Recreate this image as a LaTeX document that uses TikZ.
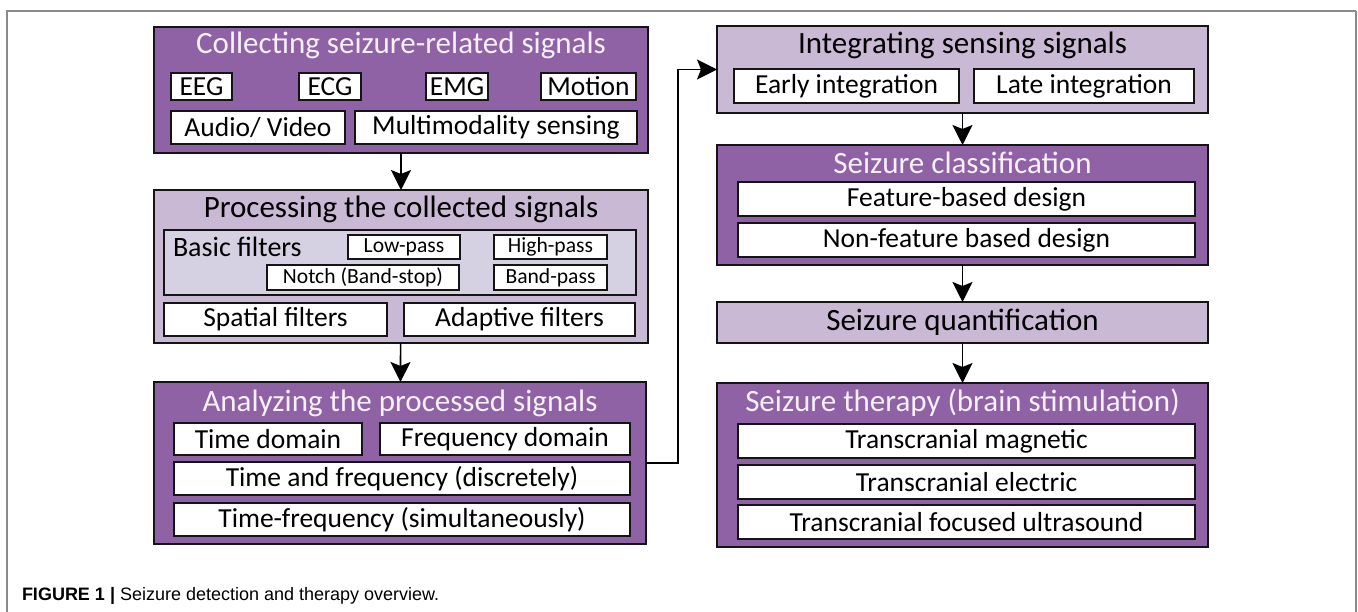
\documentclass[tikz,border=0pt]{standalone}
\usepackage{fontspec}
\setmainfont{Carlito}
\newfontfamily\capfont{Liberation Sans}
\usepackage{xcolor}
\definecolor{cDark}{HTML}{8F62A6}
\definecolor{cLight}{HTML}{C9B9D4}
\definecolor{cBasic}{HTML}{D5D1E3}
\definecolor{ink}{HTML}{141414}
\definecolor{rim}{HTML}{8A8A8A}
\definecolor{paper}{HTML}{F6F0F8}
\usetikzlibrary{arrows.meta}

\begin{document}
\begin{tikzpicture}[x=1pt, y=-1pt, every node/.style={inner sep=0pt, outer sep=0pt},
   big/.style={draw=ink, line width=1.6pt, fill=cDark},
   pale/.style={big, fill=cLight},
   item/.style={draw=ink, line width=1.4pt, fill=white, font=\fontsize{27.5}{32}\selectfont},
   small/.style={item, font=\fontsize{21.6}{25}\selectfont},
   head/.style={font=\fontsize{31}{36}\selectfont, text=paper},
   headk/.style={head, text=black},
   sz/.style 2 args={minimum width=#1pt, minimum height=#2pt},
   arr/.style={-{Stealth[length=20pt, width=20pt, inset=4pt]}, line width=1.6pt, color=black}]
  \useasboundingbox (0,0) rectangle (1358,612);
  \draw[rim, line width=2pt] (7,612) -- (7,11) -- (1356,11);
  \draw[rim, line width=1.2pt] (1356,11) -- (1356,612);

  \node[big, sz={494}{126}] (collect) at (401,90) {};
  \node[head] (collectT) at (401,45) {Collecting seizure-related signals};
  \node[item, sz={61}{27}] (eeg) at (201.5,86.5) {EEG};
  \node[item, sz={62}{27}] (ecg) at (330,86.5) {ECG};
  \node[item, sz={62}{27}] (emg) at (457,86.5) {EMG};
  \node[item, sz={95}{27}] (motion) at (588.5,86.5) {Motion};
  \node[item, sz={174}{33}] (av) at (258,127.5) {Audio/ Video};
  \node[item, sz={282}{33}] (multi) at (496,127.5) {Multimodality sensing};

  \node[pale, sz={494}{153}] (process) at (401,266.5) {};
  \node[headk] (processT) at (401,209) {Processing the collected signals};
  \node[draw=ink, line width=1.4pt, fill=cBasic, sz={472}{65}] (basic) at (400,262.5) {};
  \node[anchor=west, font=\fontsize{28}{32}\selectfont] (basicT) at (173,247) {Basic filters};
  \node[small, sz={112}{24}] (low) at (404,247) {Low-pass};
  \node[small, sz={113}{24}] (high) at (550.5,247) {High-pass};
  \node[small, sz={192}{25}] (notch) at (363,277.5) {Notch (Band-stop)};
  \node[small, sz={113}{25}] (band) at (550.5,277.5) {Band-pass};
  \node[item, sz={223}{33}] (spatial) at (275.5,319.5) {Spatial filters};
  \node[item, sz={231}{33}] (adaptive) at (519.5,319.5) {Adaptive filters};

  \node[big, sz={492}{162}] (analyze) at (400,463) {};
  \node[head] (analyzeT) at (400,403) {Analyzing the processed signals};
  \node[item, sz={188}{32}] (tdom) at (268,439) {Time domain};
  \node[item, sz={250}{32}] (fdom) at (505,439) {Frequency domain};
  \node[item, sz={456}{33}] (tfd) at (402,478.5) {Time and frequency (discretely)};
  \node[item, sz={456}{33}] (tfs) at (402,519.5) {Time-frequency (simultaneously)};

  \node[pale, sz={491}{87}] (integrate) at (962.5,69.5) {};
  \node[headk] (integrateT) at (962.5,45) {Integrating sensing signals};
  \node[item, sz={225}{34}] (early) at (846.5,86) {Early integration};
  \node[item, sz={220}{34}] (late) at (1084,86) {Late integration};

  \node[big, sz={491}{120}] (classify) at (962.5,205) {};
  \node[head] (classifyT) at (962.5,163) {Seizure classification};
  \node[item, sz={457}{34}] (feat) at (966.5,199) {Feature-based design};
  \node[item, sz={457}{34}] (nonfeat) at (966.5,240) {Non-feature based design};

  \node[pale, sz={491}{41}, font=\fontsize{31}{36}\selectfont] (quantify) at (962.5,322.5) {Seizure quantification};

  \node[big, sz={491}{164}] (therapy) at (962.5,465) {};
  \node[head] (therapyT) at (962.5,403) {Seizure therapy (brain stimulation)};
  \node[item, sz={457}{34}] (tms) at (966.5,441) {Transcranial magnetic};
  \node[item, sz={457}{34}] (tes) at (966.5,482) {Transcranial electric};
  \node[item, sz={457}{34}] (tfus) at (966.5,522) {Transcranial focused ultrasound};

  \foreach \i/\j in {collect/process,process/analyze,integrate/classify,classify/quantify,quantify/therapy} \draw[arr] (\i) -- (\j);
  \draw[arr] (analyze.east) -- ++(32,0) |- (integrate.west);

  \node[anchor=base west, font=\capfont\fontsize{18}{21}\selectfont] (caption) at (22,600) {\textbf{FIGURE 1 |} Seizure detection and therapy overview.};
\end{tikzpicture}
\end{document}
